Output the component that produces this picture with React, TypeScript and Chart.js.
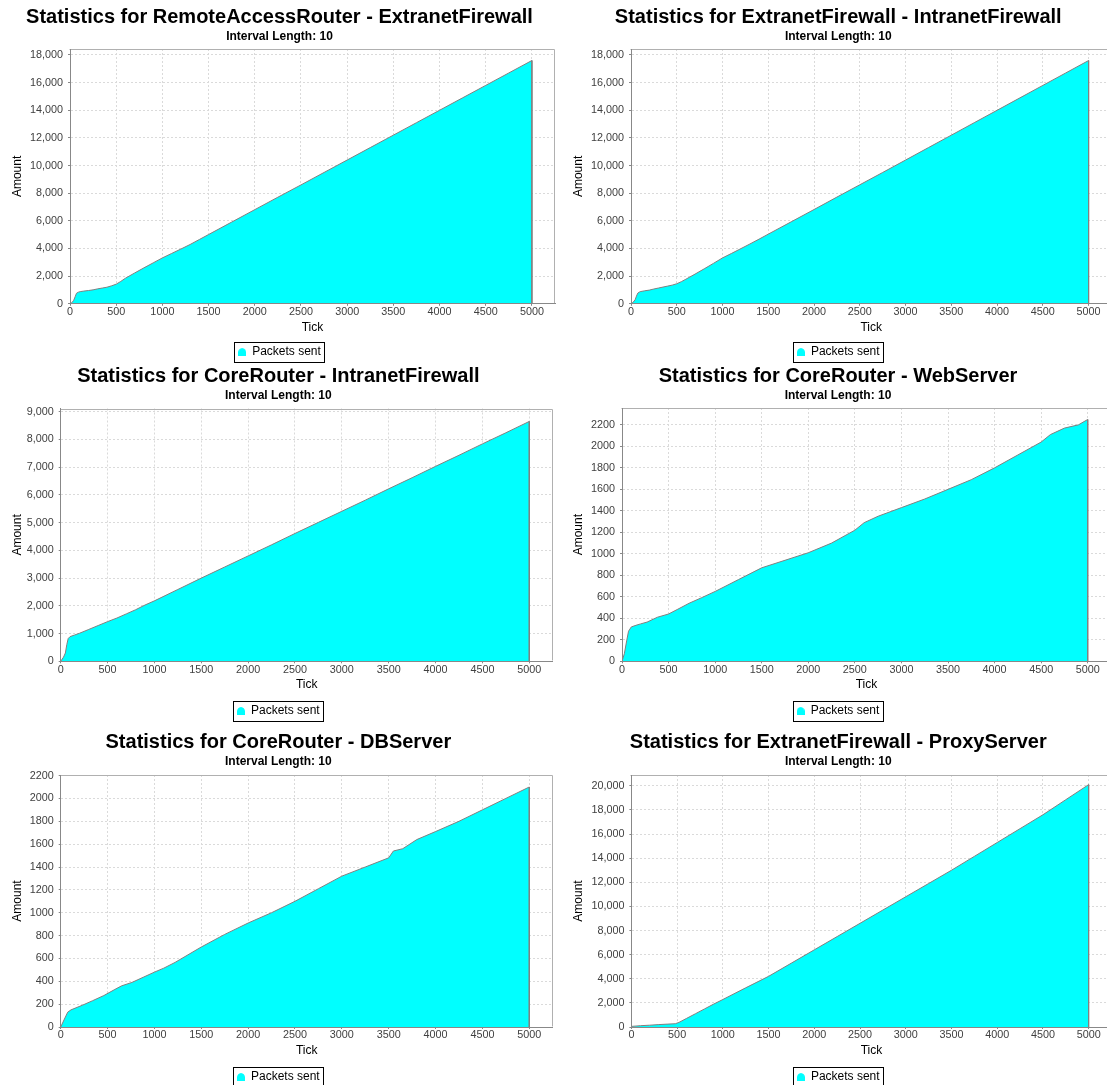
import React, { useEffect, useRef } from "react";
import { Chart, registerables } from "chart.js";

Chart.register(...registerables);

const FONT = "'Liberation Sans', Arial, Helvetica, sans-serif";

// shared axis data
const X_TICKS = [0, 500, 1000, 1500, 2000, 2500, 3000, 3500, 4000, 4500, 5000];
const X_MAX = 5250;
const SERIES_LABEL = "Packets sent";
const SUBTITLE = "Interval Length: 10";

// 1. RemoteAccessRouter - ExtranetFirewall
const TICK_RAR_EF = [0, 20, 40, 55, 70, 90, 110, 150, 200, 250, 300, 350, 400, 450, 500, 550, 600, 700, 800, 900, 1000, 1100, 1200, 1300, 1400, 1500, 1750, 2000, 2250, 2500, 2750, 3000, 3250, 3500, 3750, 4000, 4250, 4500, 4750, 5000, 5000];
const SENT_RAR_EF = [0, 80, 250, 500, 760, 840, 880, 920, 960, 1010, 1080, 1140, 1200, 1300, 1420, 1620, 1850, 2230, 2600, 2960, 3320, 3640, 3960, 4290, 4650, 5010, 5910, 6810, 7710, 8600, 9500, 10400, 11300, 12200, 13100, 14000, 14900, 15800, 16700, 17600, 0];
const Y_TICKS_RAR_EF = [0, 2000, 4000, 6000, 8000, 10000, 12000, 14000, 16000, 18000];

// 2. ExtranetFirewall - IntranetFirewall
const TICK_EF_IF = [0, 20, 45, 60, 75, 100, 150, 200, 250, 300, 350, 400, 450, 500, 550, 600, 700, 800, 900, 1000, 1100, 1200, 1300, 1400, 1500, 1750, 2000, 2250, 2500, 2750, 3000, 3250, 3500, 3750, 4000, 4250, 4500, 4750, 5000, 5000];
const SENT_EF_IF = [0, 90, 290, 560, 780, 880, 940, 990, 1070, 1140, 1210, 1280, 1350, 1450, 1600, 1780, 2150, 2530, 2920, 3320, 3650, 3990, 4330, 4680, 5040, 5930, 6820, 7720, 8610, 9500, 10400, 11300, 12200, 13100, 14000, 14900, 15800, 16700, 17600, 0];
const Y_TICKS_EF_IF = [0, 2000, 4000, 6000, 8000, 10000, 12000, 14000, 16000, 18000];

// 3. CoreRouter - IntranetFirewall
const TICK_CR_IF = [0, 30, 50, 65, 80, 100, 150, 200, 300, 400, 500, 600, 700, 800, 900, 1000, 1250, 1500, 1750, 2000, 2250, 2500, 2750, 3000, 3250, 3500, 3750, 4000, 4250, 4500, 4750, 5000, 5000];
const SENT_CR_IF = [0, 150, 300, 600, 820, 890, 950, 1010, 1150, 1290, 1430, 1560, 1710, 1860, 2030, 2180, 2590, 3000, 3400, 3800, 4200, 4610, 5010, 5410, 5810, 6220, 6620, 7030, 7430, 7840, 8240, 8650, 0];
const Y_TICKS_CR_IF = [0, 1000, 2000, 3000, 4000, 5000, 6000, 7000, 8000, 9000];

// 4. CoreRouter - WebServer
const TICK_CR_WS = [0, 25, 50, 70, 100, 150, 200, 270, 380, 500, 600, 720, 850, 1000, 1250, 1500, 1750, 2000, 2250, 2500, 2600, 2750, 3000, 3250, 3500, 3750, 4000, 4250, 4500, 4600, 4750, 4900, 5000, 5000];
const SENT_CR_WS = [0, 70, 190, 280, 320, 335, 348, 365, 410, 440, 485, 540, 590, 650, 760, 870, 940, 1010, 1100, 1220, 1290, 1350, 1430, 1510, 1600, 1690, 1800, 1920, 2040, 2110, 2170, 2200, 2250, 0];
const Y_TICKS_CR_WS = [0, 200, 400, 600, 800, 1000, 1200, 1400, 1600, 1800, 2000, 2200];

// 5. CoreRouter - DBServer
const TICK_CR_DB = [0, 40, 75, 110, 230, 340, 460, 570, 650, 760, 880, 1000, 1100, 1220, 1500, 1750, 2000, 2250, 2500, 2750, 3000, 3250, 3500, 3550, 3650, 3800, 4000, 4250, 4500, 4750, 5000, 5000];
const SENT_CR_DB = [0, 70, 130, 150, 190, 230, 275, 325, 360, 390, 435, 480, 515, 565, 700, 810, 910, 1000, 1100, 1210, 1320, 1400, 1480, 1540, 1560, 1640, 1710, 1800, 1900, 2000, 2100, 0];
const Y_TICKS_CR_DB = [0, 200, 400, 600, 800, 1000, 1200, 1400, 1600, 1800, 2000, 2200];

// 6. ExtranetFirewall - ProxyServer
const TICK_EF_PS = [0, 100, 200, 300, 400, 480, 520, 600, 700, 800, 900, 1000, 1250, 1500, 1750, 2000, 2250, 2500, 2750, 3000, 3250, 3500, 3750, 4000, 4250, 4500, 4750, 5000, 5000];
const SENT_EF_PS = [50, 110, 150, 200, 240, 270, 380, 700, 1100, 1500, 1900, 2280, 3250, 4200, 5300, 6400, 7500, 8600, 9700, 10800, 11900, 13000, 14150, 15300, 16450, 17600, 18850, 20100, 0];
const Y_TICKS_EF_PS = [0, 2000, 4000, 6000, 8000, 10000, 12000, 14000, 16000, 18000, 20000];

interface Spec {
  title: string;
  ticks: number[];
  values: number[];
  yTicks: number[];
  yMax: number;
  comma: boolean;
  left: number;
  width: number;
  titleMid: number;
  plotLeft: number;
  plotRight: number;
  plotTop: number;
  plotBottom: number;
  legendTop: number;
}

const SPECS: Spec[] = [
  { title: "Statistics for RemoteAccessRouter - ExtranetFirewall", ticks: TICK_RAR_EF, values: SENT_RAR_EF, yTicks: Y_TICKS_RAR_EF, yMax: 18433, comma: true,
    left: 0, width: 561, titleMid: 17, plotLeft: 70, plotRight: 555, plotTop: 49, plotBottom: 303.5, legendTop: 339.7 },
  { title: "Statistics for ExtranetFirewall - IntranetFirewall", ticks: TICK_EF_IF, values: SENT_EF_IF, yTicks: Y_TICKS_EF_IF, yMax: 18433, comma: true,
    left: 561, width: 558, titleMid: 17, plotLeft: 631, plotRight: 1111.5, plotTop: 49, plotBottom: 303.5, legendTop: 339.7 },
  { title: "Statistics for CoreRouter - IntranetFirewall", ticks: TICK_CR_IF, values: SENT_CR_IF, yTicks: Y_TICKS_CR_IF, yMax: 9116, comma: true,
    left: 0, width: 561, titleMid: 376, plotLeft: 60.7, plotRight: 552.7, plotTop: 408.5, plotBottom: 661, legendTop: 698.7 },
  { title: "Statistics for CoreRouter - WebServer", ticks: TICK_CR_WS, values: SENT_CR_WS, yTicks: Y_TICKS_CR_WS, yMax: 2357, comma: false,
    left: 561, width: 558, titleMid: 376, plotLeft: 622, plotRight: 1111, plotTop: 408, plotBottom: 661, legendTop: 698.7 },
  { title: "Statistics for CoreRouter - DBServer", ticks: TICK_CR_DB, values: SENT_CR_DB, yTicks: Y_TICKS_CR_DB, yMax: 2205, comma: false,
    left: 0, width: 561, titleMid: 742, plotLeft: 60.7, plotRight: 552.7, plotTop: 775, plotBottom: 1026.7, legendTop: 1064.7 },
  { title: "Statistics for ExtranetFirewall - ProxyServer", ticks: TICK_EF_PS, values: SENT_EF_PS, yTicks: Y_TICKS_EF_PS, yMax: 20900, comma: true,
    left: 561, width: 558, titleMid: 742, plotLeft: 631.4, plotRight: 1111.5, plotTop: 775, plotBottom: 1026.7, legendTop: 1064.7 },
];

function makeLegendShape(): HTMLCanvasElement {
  const c = document.createElement("canvas");
  c.width = 8;
  c.height = 8;
  const g = c.getContext("2d")!;
  g.fillStyle = "#00ffff";
  g.beginPath();
  g.moveTo(4, 0);
  g.quadraticCurveTo(7.5, 0.5, 8, 4);
  g.lineTo(8, 8);
  g.lineTo(0, 8);
  g.lineTo(0, 4);
  g.quadraticCurveTo(0.5, 0.5, 4, 0);
  g.closePath();
  g.fill();
  return c;
}

const framePlugin = {
  id: "frame",
  afterDatasetsDraw(chart: any) {
    const { ctx, chartArea: a } = chart;
    ctx.save();
    ctx.strokeStyle = "#b0b0b0";
    ctx.lineWidth = 1;
    const l = Math.round(a.left) - 0.5;
    const t = Math.round(a.top) + 0.5;
    const r = Math.round(a.right) - 0.5;
    const b = Math.round(a.bottom) - 0.5;
    ctx.beginPath();
    ctx.moveTo(l, t);
    ctx.lineTo(r, t);
    ctx.lineTo(r, b);
    ctx.stroke();
    ctx.restore();
  },
  afterDraw(chart: any) {
    const hb = chart.legend && chart.legend.legendHitBoxes && chart.legend.legendHitBoxes[0];
    if (!hb) return;
    const { ctx } = chart;
    ctx.save();
    ctx.strokeStyle = "#000000";
    ctx.lineWidth = 1;
    const x = Math.round(hb.left - 4) + 0.5;
    const y = Math.round(hb.top - 4) + 0.5;
    const w = Math.round(hb.width + 7.6);
    const h = Math.round(hb.height + 8);
    ctx.strokeRect(x, y, w, h);
    ctx.restore();
  },
};

function StatChart({ spec }: { spec: Spec }) {
  const ref = useRef<HTMLCanvasElement>(null);
  const canvasTop = spec.titleMid - 17;
  const legendHeight = 28;
  const canvasHeight = Math.ceil(spec.legendTop + legendHeight - canvasTop);

  useEffect(() => {
    const canvas = ref.current;
    if (!canvas) return;
    const padLeft = 4;
    const yAxisWidth = spec.plotLeft - spec.left - padLeft;
    const padRight = spec.left + spec.width - spec.plotRight;
    const titleSize = 20;
    const titleLine = titleSize * 1.2;
    const padTop = 17 - titleLine / 2;
    const subTop = padTop + titleLine;
    const subPadTop = 37 - 7.2 - subTop;
    const subPadBottom = spec.plotTop - canvasTop - (subTop + subPadTop + 14.4);
    const xAxisHeight = spec.legendTop - spec.plotBottom;
    const xTitlePadBottom = xAxisHeight - 7.2 - 23.8;
    const yTitlePadTop = 17.5 - padLeft - 7.2;
    const fmt = (v: number) => (spec.comma ? v.toLocaleString("en-US") : String(v));

    const chart = new Chart(canvas, {
      type: "line",
      data: {
        datasets: [
          {
            label: SERIES_LABEL,
            data: spec.ticks.map((t, i) => ({ x: t, y: spec.values[i] })),
            borderColor: "#808080",
            borderWidth: 1,
            backgroundColor: "#00ffff",
            fill: "origin",
            pointRadius: 0,
            tension: 0,
          },
        ],
      },
      options: {
        animation: false,
        responsive: false,
        maintainAspectRatio: false,
        events: [],
        layout: { padding: { left: padLeft, right: padRight, top: padTop, bottom: 0 } },
        plugins: {
          title: {
            display: true,
            text: spec.title,
            color: "#000000",
            font: { family: FONT, size: titleSize, weight: "bold", lineHeight: 1.2 },
            padding: { top: 0, bottom: 0 },
          },
          subtitle: {
            display: true,
            text: SUBTITLE,
            color: "#000000",
            font: { family: FONT, size: 12, weight: "bold", lineHeight: 1.2 },
            padding: { top: subPadTop, bottom: subPadBottom },
          },
          legend: {
            display: true,
            position: "bottom",
            labels: {
              usePointStyle: true,
              pointStyle: makeLegendShape() as any,
              boxWidth: 8,
              boxHeight: 8,
              padding: 6,
              color: "#000000",
              font: { family: FONT, size: 12 },
            },
          },
          tooltip: { enabled: false },
        },
        scales: {
          x: {
            type: "linear",
            min: 0,
            max: X_MAX,
            afterBuildTicks: (sc: any) => {
              sc.ticks = X_TICKS.map((v) => ({ value: v }));
            },
            afterFit: (sc: any) => {
              sc.height = xAxisHeight;
            },
            ticks: {
              autoSkip: false,
              maxRotation: 0,
              padding: 0,
              color: "#404040",
              font: { family: FONT, size: 10.8 },
              callback: (v: any) => String(v),
            },
            grid: { color: "#dadada", tickColor: "#888888", tickLength: 2, tickBorderDash: [] },
            border: { display: true, color: "#888888", dash: [2, 2], z: 1 },
            title: {
              display: true,
              text: "Tick",
              color: "#000000",
              font: { family: FONT, size: 12, lineHeight: 1.2 },
              padding: { top: 0, bottom: xTitlePadBottom },
            },
          },
          y: {
            type: "linear",
            min: 0,
            max: spec.yMax,
            afterBuildTicks: (sc: any) => {
              sc.ticks = spec.yTicks.map((v) => ({ value: v }));
            },
            afterFit: (sc: any) => {
              sc.width = yAxisWidth;
            },
            ticks: {
              autoSkip: false,
              padding: 5,
              color: "#404040",
              font: { family: FONT, size: 10.8 },
              callback: (v: any) => fmt(Number(v)),
            },
            grid: { color: "#dadada", tickColor: "#888888", tickLength: 2, tickBorderDash: [] },
            border: { display: true, color: "#888888", dash: [2, 2], z: 1 },
            title: {
              display: true,
              text: "Amount",
              color: "#000000",
              font: { family: FONT, size: 12, lineHeight: 1.2 },
              padding: { top: yTitlePadTop, bottom: 0 },
            },
          },
        },
      } as any,
      plugins: [framePlugin],
    });
    return () => chart.destroy();
  }, [spec]);

  return (
    <canvas
      ref={ref}
      width={spec.width}
      height={canvasHeight}
      style={{ position: "absolute", left: spec.left, top: canvasTop, width: spec.width, height: canvasHeight, display: "block" }}
    />
  );
}

export default function App() {
  return (
    <div
      style={{
        position: "absolute",
        left: 0,
        top: 0,
        width: 1107,
        height: 1085,
        overflow: "hidden",
        background: "#ffffff",
      }}
    >
      {SPECS.map((s, i) => (
        <StatChart key={i} spec={s} />
      ))}
    </div>
  );
}
